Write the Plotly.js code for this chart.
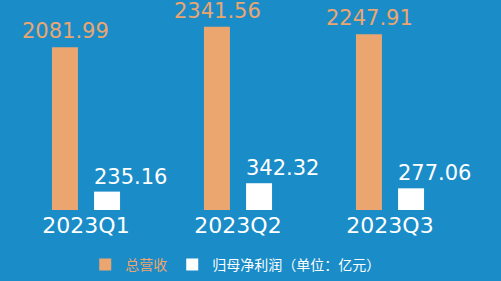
<!DOCTYPE html>
<html>
<head>
<meta charset="utf-8">
<script src="https://cdn.plot.ly/plotly-3.0.1.min.js"></script>
<style>html,body{margin:0;padding:0;background:#1a8cc8;}</style>
</head>
<body>
<div id="chart" style="width:501px;height:281px;"></div>
<script>
const quarters = ['2023Q1', '2023Q2', '2023Q3'];
const revenue = [2081.99, 2341.56, 2247.91];
const netProfit = [235.16, 342.32, 277.06];
const revenueName = '总营收';
const profitName = '归母净利润（单位：亿元）';

const orange = '#eba66f';
const white = '#ffffff';
const numFont = 'DejaVu Sans, sans-serif';
const cjkFont = 'Noto Sans CJK SC, sans-serif';

const traces = [
  {type: 'bar', x: quarters, y: revenue, name: '<span style="color:' + orange + '">' + revenueName + '</span>',
   marker: {color: orange}, width: 0.171, offset: -0.224, hoverinfo: 'none'},
  {type: 'bar', x: quarters, y: netProfit, name: profitName,
   marker: {color: white}, width: 0.171, offset: 0.053, hoverinfo: 'none'}
];

const annotations = [];
quarters.forEach((q, i) => {
  annotations.push({x: q, y: revenue[i], xref: 'x', yref: 'y', text: revenue[i].toFixed(2),
    showarrow: false, xanchor: 'center', yanchor: 'middle', xshift: -21, yshift: 16,
    font: {family: numFont, size: 21, color: orange}});
  annotations.push({x: q, y: netProfit[i], xref: 'x', yref: 'y', text: netProfit[i].toFixed(2),
    showarrow: false, xanchor: 'center', yanchor: 'middle', xshift: 44, yshift: 15,
    font: {family: numFont, size: 21, color: white}});
});

const layout = {
  width: 501, height: 281,
  paper_bgcolor: '#1a8cc8', plot_bgcolor: '#1a8cc8',
  margin: {l: 10, r: 35, t: 0, b: 71},
  showlegend: true,
  legend: {orientation: 'h', x: 0.165, xanchor: 'left', y: -0.262, yanchor: 'middle',
    font: {family: cjkFont, size: 14, color: white}, bgcolor: 'rgba(0,0,0,0)'},
  xaxis: {type: 'category', range: [-0.5, 2.5], showgrid: false, zeroline: false, showline: false,
    ticks: '', tickfont: {family: numFont, size: 22, color: white}, fixedrange: true},
  yaxis: {range: [0, 2685], visible: false, fixedrange: true},
  annotations: annotations
};

Plotly.newPlot('chart', traces, layout, {displayModeBar: false, staticPlot: true});
</script>
</body>
</html>
